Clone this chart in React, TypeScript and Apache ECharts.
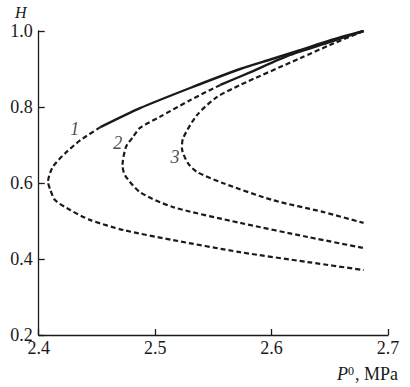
import React, { useEffect, useRef } from "react";
import * as echarts from "echarts";

const xTicks = [2.4, 2.5, 2.6, 2.7];
const yTicks = [0.2, 0.4, 0.6, 0.8, 1.0];

// Curve 1: solid (stable) upper branch, dashed remainder
const curve1Solid: [number, number][] = [
  [2.679, 1.0], [2.65, 0.975], [2.625, 0.95], [2.599, 0.925], [2.573, 0.9],
  [2.53, 0.85], [2.487, 0.797], [2.453, 0.747],
];
const curve1Dashed: [number, number][] = [
  [2.453, 0.747], [2.436, 0.713], [2.423, 0.679], [2.412, 0.642], [2.408, 0.603],
  [2.41, 0.582], [2.414, 0.555], [2.427, 0.529], [2.444, 0.503], [2.473, 0.476],
  [2.515, 0.45], [2.573, 0.418], [2.631, 0.392], [2.679, 0.371],
];
// Curve 2
const curve2Solid: [number, number][] = [
  [2.679, 1.0], [2.65, 0.971], [2.616, 0.937], [2.582, 0.892], [2.556, 0.858],
];
const curve2Dashed: [number, number][] = [
  [2.556, 0.858], [2.53, 0.818], [2.504, 0.774], [2.487, 0.745], [2.481, 0.721],
  [2.475, 0.695], [2.472, 0.647], [2.474, 0.621], [2.487, 0.576], [2.515, 0.537],
  [2.573, 0.495], [2.631, 0.458], [2.679, 0.429],
];
// Curve 3
const curve3Dashed: [number, number][] = [
  [2.679, 1.0], [2.65, 0.963], [2.625, 0.929], [2.573, 0.858], [2.553, 0.826],
  [2.536, 0.779], [2.524, 0.718], [2.523, 0.692], [2.528, 0.653], [2.536, 0.629],
  [2.558, 0.6], [2.601, 0.555], [2.644, 0.524], [2.679, 0.495],
];
const curveLabels: { name: string; value: [number, number] }[] = [
  { name: "1", value: [2.431, 0.742] },
  { name: "2", value: [2.468, 0.705] },
  { name: "3", value: [2.517, 0.668] },
];

const FONT = "'Liberation Serif', 'DejaVu Serif', serif";
const INK = "#1a1a1a";

export default function App() {
  const ref = useRef<HTMLDivElement>(null);
  useEffect(() => {
    document.body.style.margin = "0";
    if (!ref.current) return;
    const chart = echarts.init(ref.current, undefined, { renderer: "svg" });
    const solid = { color: INK, width: 2.4, type: "solid" as const };
    const dashed = { color: INK, width: 2.2, type: [5, 3] as any };
    const lineBase = { type: "line" as const, showSymbol: false, symbol: "none", smooth: 0.25, silent: true, itemStyle: { color: INK } };
    chart.setOption({
      animation: false,
      backgroundColor: "#ffffff",
      color: [INK],
      grid: { left: 38.7, right: 22, top: 31, bottom: 52 },
      xAxis: {
        type: "value",
        min: xTicks[0],
        max: xTicks[xTicks.length - 1],
        interval: 0.1,
        axisLine: { show: true, lineStyle: { color: INK, width: 1.3 } },
        axisTick: { show: true, inside: true, length: 6, lineStyle: { color: INK, width: 1.3 } },
        axisLabel: { color: INK, fontFamily: FONT, fontSize: 18, margin: 4, formatter: (v: number) => v.toFixed(1) },
        splitLine: { show: false },
      },
      yAxis: {
        type: "value",
        min: yTicks[0],
        max: yTicks[yTicks.length - 1],
        interval: 0.2,
        axisLine: { show: true, lineStyle: { color: INK, width: 1.3 } },
        axisTick: { show: true, inside: true, length: 6, lineStyle: { color: INK, width: 1.3 } },
        axisLabel: { color: INK, fontFamily: FONT, fontSize: 18, margin: 6, formatter: (v: number) => v.toFixed(1) },
        splitLine: { show: false },
      },
      graphic: [
        {
          type: "text",
          left: 15,
          top: 4,
          style: { text: "H", fontFamily: FONT, fontStyle: "italic", fontSize: 16, fill: INK },
        },
        {
          type: "text",
          right: 12,
          top: 365,
          style: {
            text: "{i|P}{s|0}{n|, MPa}",
            rich: {
              i: { fontFamily: FONT, fontStyle: "italic", fontSize: 18, fill: INK, verticalAlign: "bottom" },
              s: { fontFamily: FONT, fontSize: 12, fill: INK, verticalAlign: "top", padding: [0, 1, 0, 0] },
              n: { fontFamily: FONT, fontSize: 18, fill: INK, verticalAlign: "bottom" },
            },
            fill: INK,
          },
        },
      ],
      series: [
        { ...lineBase, data: curve1Solid, lineStyle: solid },
        { ...lineBase, data: curve1Dashed, lineStyle: dashed },
        { ...lineBase, data: curve2Solid, lineStyle: solid },
        { ...lineBase, data: curve2Dashed, lineStyle: dashed },
        { ...lineBase, data: curve3Dashed, lineStyle: dashed },
        {
          type: "scatter",
          symbolSize: 0,
          silent: true,
          itemStyle: { color: INK },
          data: curveLabels,
          label: {
            show: true,
            position: "inside",
            formatter: (p: any) => p.name,
            fontFamily: FONT,
            fontStyle: "italic",
            fontSize: 18,
            color: INK,
            textBorderWidth: 0,
            textBorderColor: "transparent",
          },
        },
      ],
    });
    return () => chart.dispose();
  }, []);
  return <div ref={ref} style={{ width: 410, height: 387 }} />;
}
